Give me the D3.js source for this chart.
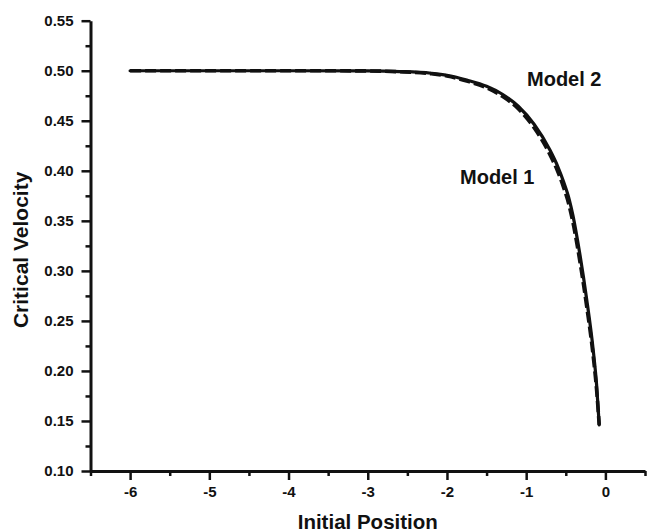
<!DOCTYPE html>
<html>
<head>
<meta charset="utf-8">
<script src="https://cdn.jsdelivr.net/npm/d3@7"></script>
<style>
  html, body { margin: 0; padding: 0; background: #fff; }
  svg { display: block; }
  text { font-family: "Liberation Sans", Arial, Helvetica, sans-serif; font-weight: bold; fill: #111; }
</style>
</head>
<body>
<svg id="chart" width="647" height="532"></svg>
<script>
// ---- data ----
const xPositions = [-6, -5, -4, -3, -2.6, -2.2, -2.0, -1.75, -1.5, -1.3, -1.1, -0.9, -0.7, -0.6, -0.53, -0.457, -0.41, -0.32, -0.237, -0.154, -0.111, -0.078];
const model2 = [0.500, 0.500, 0.500, 0.4998, 0.4992, 0.4975, 0.4955, 0.4907, 0.4845, 0.4765, 0.4645, 0.4465, 0.4207, 0.4040, 0.3895, 0.3715, 0.3555, 0.3155, 0.2720, 0.2210, 0.1860, 0.1460];
const model1 = [0.500, 0.500, 0.500, 0.4998, 0.4990, 0.4970, 0.4948, 0.4897, 0.4830, 0.4745, 0.4620, 0.4430, 0.4162, 0.3990, 0.3840, 0.3650, 0.3485, 0.3085, 0.2650, 0.2150, 0.1810, 0.1460];
const xTicks = [-6, -5, -4, -3, -2, -1, 0];
const yTicks = [0.10, 0.15, 0.20, 0.25, 0.30, 0.35, 0.40, 0.45, 0.50, 0.55];
const seriesLabels = ["Model 1", "Model 2"];
const xTitle = "Initial Position";
const yTitle = "Critical Velocity";

// ---- layout ----
const svg = d3.select("#chart");
const x = d3.scaleLinear().domain([-6.5, 0.5]).range([90.5, 645]);
const y = d3.scaleLinear().domain([0.10, 0.55]).range([471, 20.7]);
const ink = "#111";
const fmtX = d => String(d).replace("\u2212", "-");

// minor ticks
const xMinor = d3.range(-6.5, 0.51, 0.5).filter(v => Math.abs(v - Math.round(v)) > 1e-6);
const yMinor = d3.range(0.125, 0.55, 0.05);

const gx = svg.append("g").attr("transform", `translate(0,${y(0.10)})`);
gx.call(d3.axisBottom(x).tickValues(xTicks).tickFormat(fmtX).tickSize(9).tickPadding(6).tickSizeOuter(0));
gx.append("g").call(d3.axisBottom(x).tickValues(xMinor).tickFormat("").tickSize(5).tickSizeOuter(0))
  .select(".domain").remove();
gx.selectAll(".domain").attr("stroke", ink).attr("stroke-width", 3);
gx.selectAll(".tick line").attr("stroke", ink).attr("stroke-width", 2.5);
gx.selectAll(".tick text").style("font-size", "15px").attr("fill", ink).attr("dy", "0.72em");

const gy = svg.append("g").attr("transform", `translate(${x(-6.5)},0)`);
gy.call(d3.axisLeft(y).tickValues(yTicks).tickFormat(d3.format(".2f")).tickSize(9).tickPadding(8).tickSizeOuter(0));
gy.append("g").call(d3.axisLeft(y).tickValues(yMinor).tickFormat("").tickSize(5).tickSizeOuter(0))
  .select(".domain").remove();
gy.selectAll(".domain").attr("stroke", ink).attr("stroke-width", 3);
gy.selectAll(".tick line").attr("stroke", ink).attr("stroke-width", 2.5);
gy.selectAll(".tick text").style("font-size", "15px").attr("fill", ink);

// lines
const m1 = xPositions.map((v, i) => [v, model1[i]]);
const m2 = xPositions.map((v, i) => [v, model2[i]]);
const line = d3.line().x(d => x(d[0])).y(d => y(d[1])).curve(d3.curveMonotoneX);

svg.append("path").datum(m1).attr("d", line)
  .attr("fill", "none").attr("stroke", ink).attr("stroke-width", 3.6)
  .attr("stroke-dasharray", "11,4");
svg.append("path").datum(m2).attr("d", line)
  .attr("fill", "none").attr("stroke", ink).attr("stroke-width", 3.2)
  .attr("stroke-linecap", "round");

// series labels
svg.append("text").attr("x", 460).attr("y", 184).style("font-size", "20px").text(seriesLabels[0]);
svg.append("text").attr("x", 527).attr("y", 86).style("font-size", "20px").text(seriesLabels[1]);

// axis titles
svg.append("text").attr("x", (x(-6.5) + x(0.5)) / 2).attr("y", 529)
  .attr("text-anchor", "middle").style("font-size", "20.5px").text(xTitle);
svg.append("text").attr("transform", `translate(28,${(y(0.10) + y(0.55)) / 2 + 4}) rotate(-90)`)
  .attr("text-anchor", "middle").style("font-size", "21px").text(yTitle);
</script>
</body>
</html>
